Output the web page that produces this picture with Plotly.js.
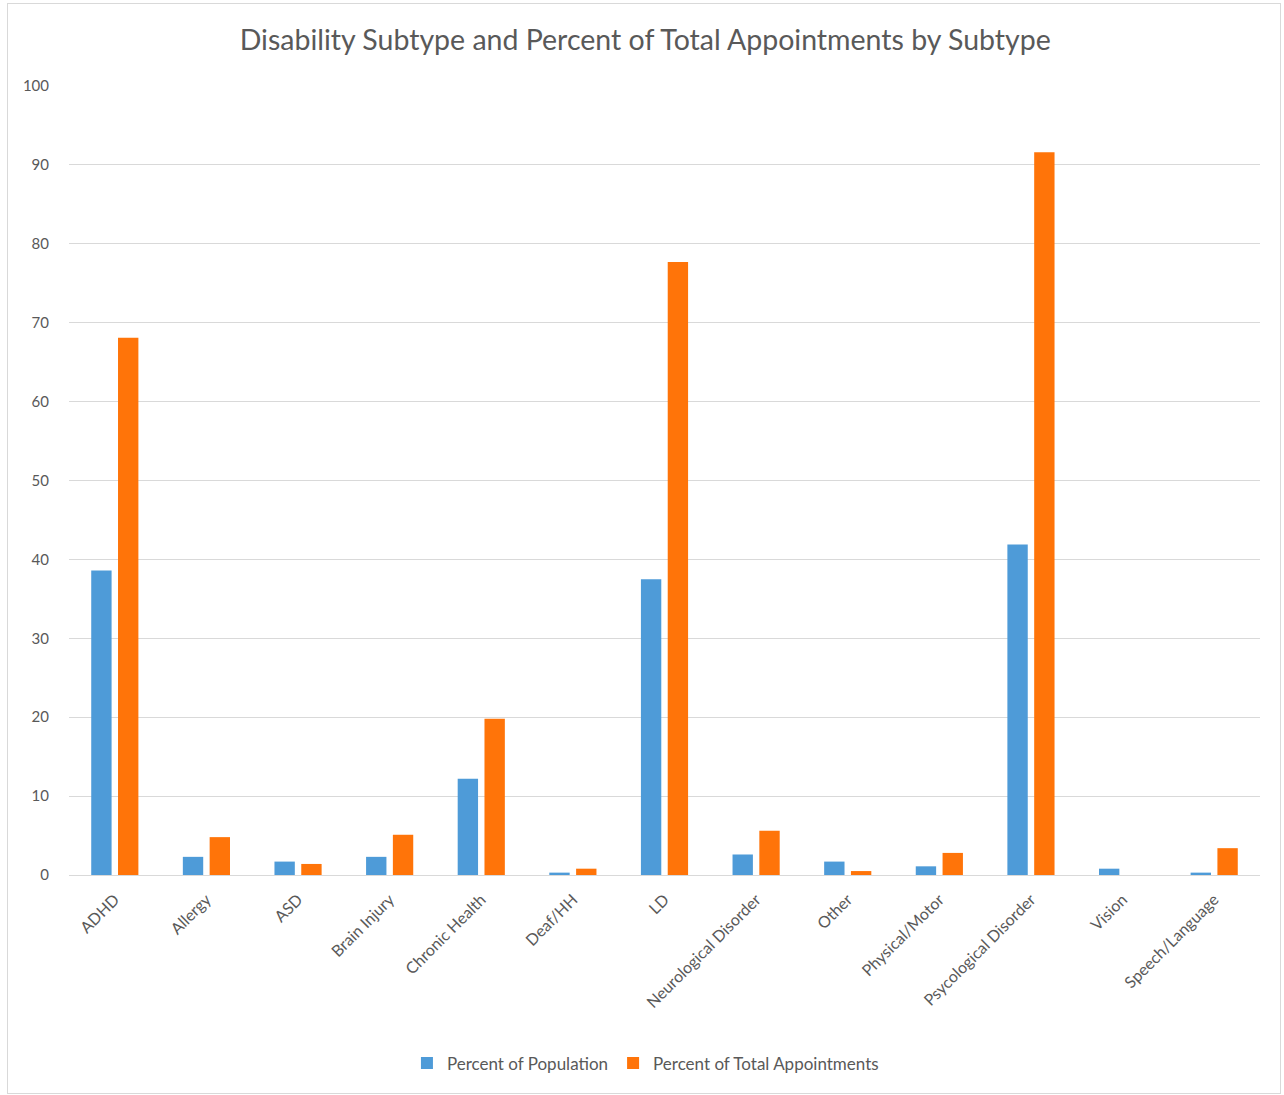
<!DOCTYPE html>
<html>
<head>
<meta charset="utf-8">
<script src="https://cdn.plot.ly/plotly-3.0.1.min.js"></script>
<style>
  html, body { margin: 0; padding: 0; background: #ffffff; }
  #frame {
    position: absolute; left: 7px; top: 3px;
    width: 1272px; height: 1089px;
    border: 1px solid #d9d9d9;
  }
  #chart { position: absolute; left: 0; top: 0; width: 1272px; height: 1089px; }
</style>
</head>
<body>
<div id="frame"><div id="chart"></div></div>
<script>
// Disability subtypes
const categories = [
  "ADHD", "Allergy", "ASD", "Brain Injury", "Chronic Health", "Deaf/HH", "LD",
  "Neurological Disorder", "Other", "Physical/Motor", "Psycological Disorder",
  "Vision", "Speech/Language"
];
// Share of the student population by subtype (%)
const percentPopulation = [38.6, 2.3, 1.7, 2.3, 12.2, 0.3, 37.5, 2.6, 1.7, 1.1, 41.9, 0.8, 0.3];
// Share of all appointments by subtype (%)
const percentAppointments = [68.1, 4.8, 1.4, 5.1, 19.8, 0.8, 77.7, 5.6, 0.5, 2.8, 91.6, 0, 3.4];

const seriesNames = ["Percent of Population", "Percent of Total Appointments"];

const textColor = "#595959";
const fontFamily = "Lato, 'Open Sans', sans-serif";

const traces = [
  {
    type: "bar", name: seriesNames[0], x: categories, y: percentPopulation,
    marker: { color: "#4e9bd8", line: { width: 0 } }
  },
  {
    type: "bar", name: seriesNames[1], x: categories, y: percentAppointments,
    marker: { color: "#ff7409", line: { width: 0 } }
  }
];

const layout = {
  width: 1272, height: 1089,
  autosize: false,
  margin: { l: 61, r: 20, t: 82, b: 218, autoexpand: false },
  paper_bgcolor: "#ffffff", plot_bgcolor: "#ffffff",
  font: { family: fontFamily, color: textColor, size: 15 },
  title: {
    text: "Disability Subtype and Percent of Total Appointments by Subtype",
    font: { family: fontFamily, size: 28.5, color: textColor },
    x: 0.501, xanchor: "center", xref: "container",
    y: 0.967, yanchor: "middle", yref: "container"
  },
  barmode: "group",
  bargap: 0.415,
  bargroupgap: 0.24,
  xaxis: {
    type: "category",
    tickangle: -45,
    automargin: false,
    showline: true, linecolor: "#d9d9d9", linewidth: 1,
    showgrid: false, ticks: "",
    ticklabelstandoff: 8,
    tickfont: { size: 16, color: textColor }
  },
  yaxis: {
    range: [0, 100], dtick: 10, tick0: 0,
    automargin: false,
    showgrid: true, gridcolor: "#d9d9d9", gridwidth: 1,
    zeroline: false, showline: false, ticks: "",
    ticklabelstandoff: 19,
    tickfont: { size: 15, color: textColor }
  },
  legend: {
    orientation: "h",
    x: 0.484, xanchor: "center",
    y: -0.239, yanchor: "middle",
    font: { size: 17, color: textColor },
    traceorder: "normal"
  },
  showlegend: true
};

Plotly.newPlot("chart", traces, layout, { displayModeBar: false, staticPlot: true });
</script>
</body>
</html>
